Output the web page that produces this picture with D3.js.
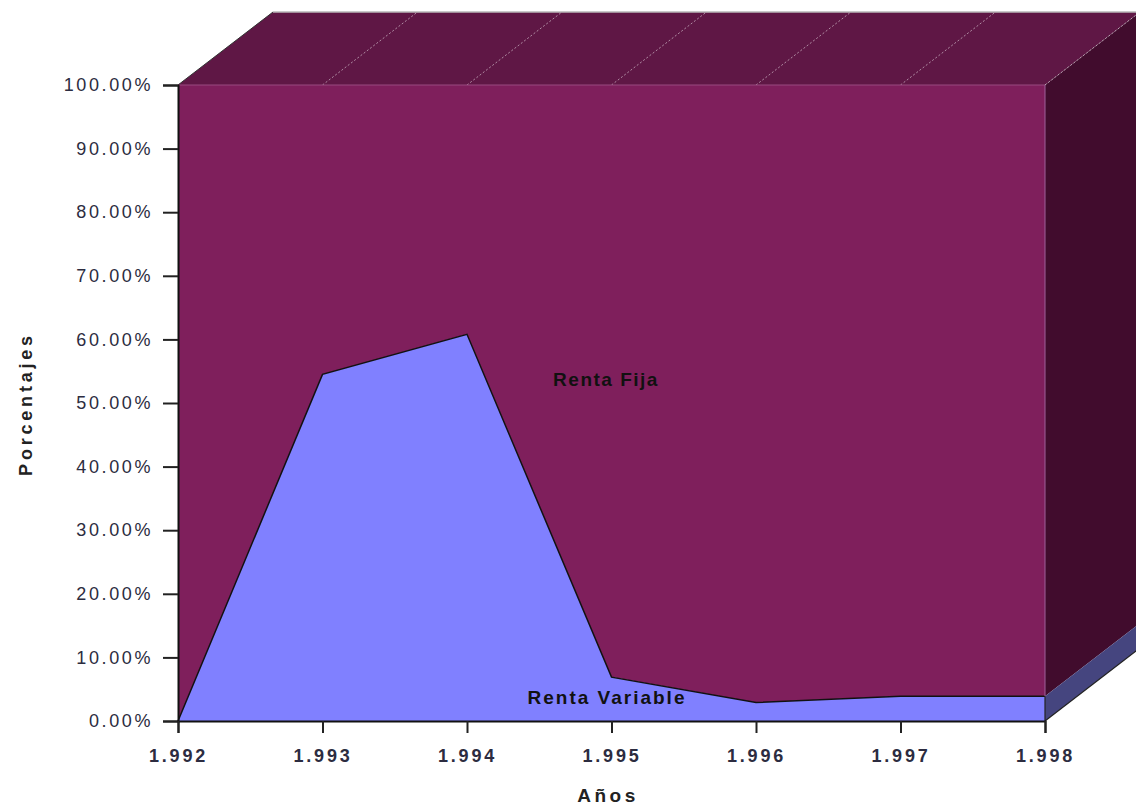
<!DOCTYPE html>
<html>
<head>
<meta charset="utf-8">
<script src="https://cdn.jsdelivr.net/npm/d3@7"></script>
<style>
  body { margin: 0; background: #fff; }
  svg text { font-family: "Liberation Sans", Arial, sans-serif; }
</style>
</head>
<body>
<div id="chart"></div>
<script>
var years         = [1992, 1993, 1994, 1995, 1996, 1997, 1998],
    rentaVariable = [0, 54.5, 60.8, 6.9, 2.9, 3.9, 3.9],
    rentaFija     = [100, 45.5, 39.2, 93.1, 97.1, 96.1, 96.1],
    yTicks        = [0, 10, 20, 30, 40, 50, 60, 70, 80, 90, 100],
    seriesNames   = ['Renta Variable', 'Renta Fija'];

var width  = 1136,
    height = 811,
    depthX = 95,
    depthY = -73;

var svg = d3.select('#chart').append('svg')
    .attr('width', width)
    .attr('height', height);

var x = d3.scaleLinear().domain([1992, 1998]).range([178, 1045]),
    y = d3.scaleLinear().domain([0, 100]).range([721, 85]);

var es = d3.formatLocale({ decimal: ',', thousands: '.', grouping: [3], currency: ['', ''] }),
    fmtYear = es.format(','),
    fmtPct = function(d) { return d3.format('.2f')(d) + '%'; };

var rows = years.map(function(yr, i) {
    return { year: yr, rv: rentaVariable[i], rf: rentaFija[i] };
});

var last = rows[rows.length - 1];

// top face
var x0 = x(years[0]), x1 = x(years[years.length - 1]), yTop = y(100);
svg.append('polygon')
    .attr('points', [[x0, yTop], [x1, yTop], [x1 + depthX, yTop + depthY], [x0 + depthX, yTop + depthY]].join(' '))
    .attr('fill', '#5f1745');
svg.append('line')
    .attr('x1', x0 + depthX).attr('x2', width)
    .attr('y1', yTop + depthY).attr('y2', yTop + depthY)
    .attr('stroke', '#b8b8b8').attr('stroke-width', 1.5);
svg.append('line')
    .attr('x1', x0).attr('y1', yTop)
    .attr('x2', x0 + depthX).attr('y2', yTop + depthY)
    .attr('stroke', '#333').attr('stroke-width', 1);

// side faces
function side(v0, v1, color) {
    svg.append('polygon')
        .attr('points', [[x1, y(v0)], [x1, y(v1)], [x1 + depthX, y(v1) + depthY], [x1 + depthX, y(v0) + depthY]].join(' '))
        .attr('fill', color);
}
side(last.rv, 100, '#410c2d');
side(0, last.rv, '#45457f');
svg.append('line')
    .attr('x1', x1).attr('y1', y(0))
    .attr('x2', x1 + depthX).attr('y2', y(0) + depthY)
    .attr('stroke', '#222').attr('stroke-width', 1.2);

// dotted grid lines on top face
svg.selectAll('.depthgrid')
    .data(years.slice(1))
    .enter().append('line')
    .attr('x1', function(d) { return x(d); })
    .attr('y1', yTop)
    .attr('x2', function(d) { return x(d) + depthX; })
    .attr('y2', yTop + depthY)
    .attr('stroke', 'rgba(255,255,255,0.5)')
    .attr('stroke-dasharray', '2,2');

// front faces
var areaRF = d3.area()
    .x(function(d) { return x(d.year); })
    .y0(function(d) { return y(d.rv); })
    .y1(function(d) { return y(d.rv + d.rf); });
var areaRV = d3.area()
    .x(function(d) { return x(d.year); })
    .y0(y(0))
    .y1(function(d) { return y(d.rv); });

svg.append('path').datum(rows).attr('d', areaRF).attr('fill', '#7f1f5c');
svg.append('path').datum(rows).attr('d', areaRV).attr('fill', '#8080ff');
svg.append('path').datum(rows)
    .attr('d', d3.line().x(function(d) { return x(d.year); }).y(function(d) { return y(d.rv); }))
    .attr('fill', 'none').attr('stroke', '#111').attr('stroke-width', 1.5);

// light edges
svg.append('line')
    .attr('x1', x0).attr('x2', x1).attr('y1', yTop).attr('y2', yTop)
    .attr('stroke', '#9a4a80').attr('stroke-width', 1);
svg.append('line')
    .attr('x1', x1).attr('x2', x1).attr('y1', yTop).attr('y2', y(last.rv))
    .attr('stroke', '#a0609a').attr('stroke-width', 1);
svg.append('line')
    .attr('x1', x1).attr('x2', x1).attr('y1', y(last.rv)).attr('y2', y(0))
    .attr('stroke', '#222').attr('stroke-width', 1.2);

// axes
var yAxis = d3.axisLeft(y).tickValues(yTicks).tickFormat(fmtPct).tickSize(15).tickPadding(10);
var gy = svg.append('g').attr('transform', 'translate(' + x0 + ',0)').call(yAxis);
gy.select('.domain').attr('stroke', '#111').attr('stroke-width', 2);
gy.selectAll('.tick line').attr('stroke', '#222').attr('stroke-width', 2);
gy.selectAll('text')
    .attr('fill', '#2c2c40')
    .style('font-size', '18px')
    .style('letter-spacing', '2.6px');

var xAxis = d3.axisBottom(x).tickValues(years).tickFormat(fmtYear).tickSize(12).tickPadding(16);
var gx = svg.append('g').attr('transform', 'translate(0,' + y(0) + ')').call(xAxis);
gx.select('.domain').attr('stroke', '#111').attr('stroke-width', 2);
gx.selectAll('.tick line').attr('stroke', '#222').attr('stroke-width', 2);
gx.selectAll('text')
    .attr('fill', '#2c2c40')
    .style('font-size', '18px')
    .style('font-weight', 'bold')
    .style('letter-spacing', '2.8px');

// axis titles
svg.append('text')
    .attr('transform', 'translate(32,404) rotate(-90)')
    .attr('text-anchor', 'middle')
    .attr('fill', '#222')
    .style('font-size', '18px')
    .style('font-weight', 'bold')
    .style('letter-spacing', '3.8px')
    .text('Porcentajes');
svg.append('text')
    .attr('x', 608).attr('y', 802)
    .attr('text-anchor', 'middle')
    .attr('fill', '#222')
    .style('font-size', '19px')
    .style('font-weight', 'bold')
    .style('letter-spacing', '3.5px')
    .text('Años');

// series labels
svg.append('text')
    .attr('x', 606).attr('y', 386)
    .attr('text-anchor', 'middle')
    .attr('fill', '#111')
    .style('font-size', '19px')
    .style('font-weight', 'bold')
    .style('letter-spacing', '1.5px')
    .text(seriesNames[1]);
svg.append('text')
    .attr('x', 607).attr('y', 704)
    .attr('text-anchor', 'middle')
    .attr('fill', '#111')
    .style('font-size', '19px')
    .style('font-weight', 'bold')
    .style('letter-spacing', '2px')
    .text(seriesNames[0]);
</script>
</body>
</html>
